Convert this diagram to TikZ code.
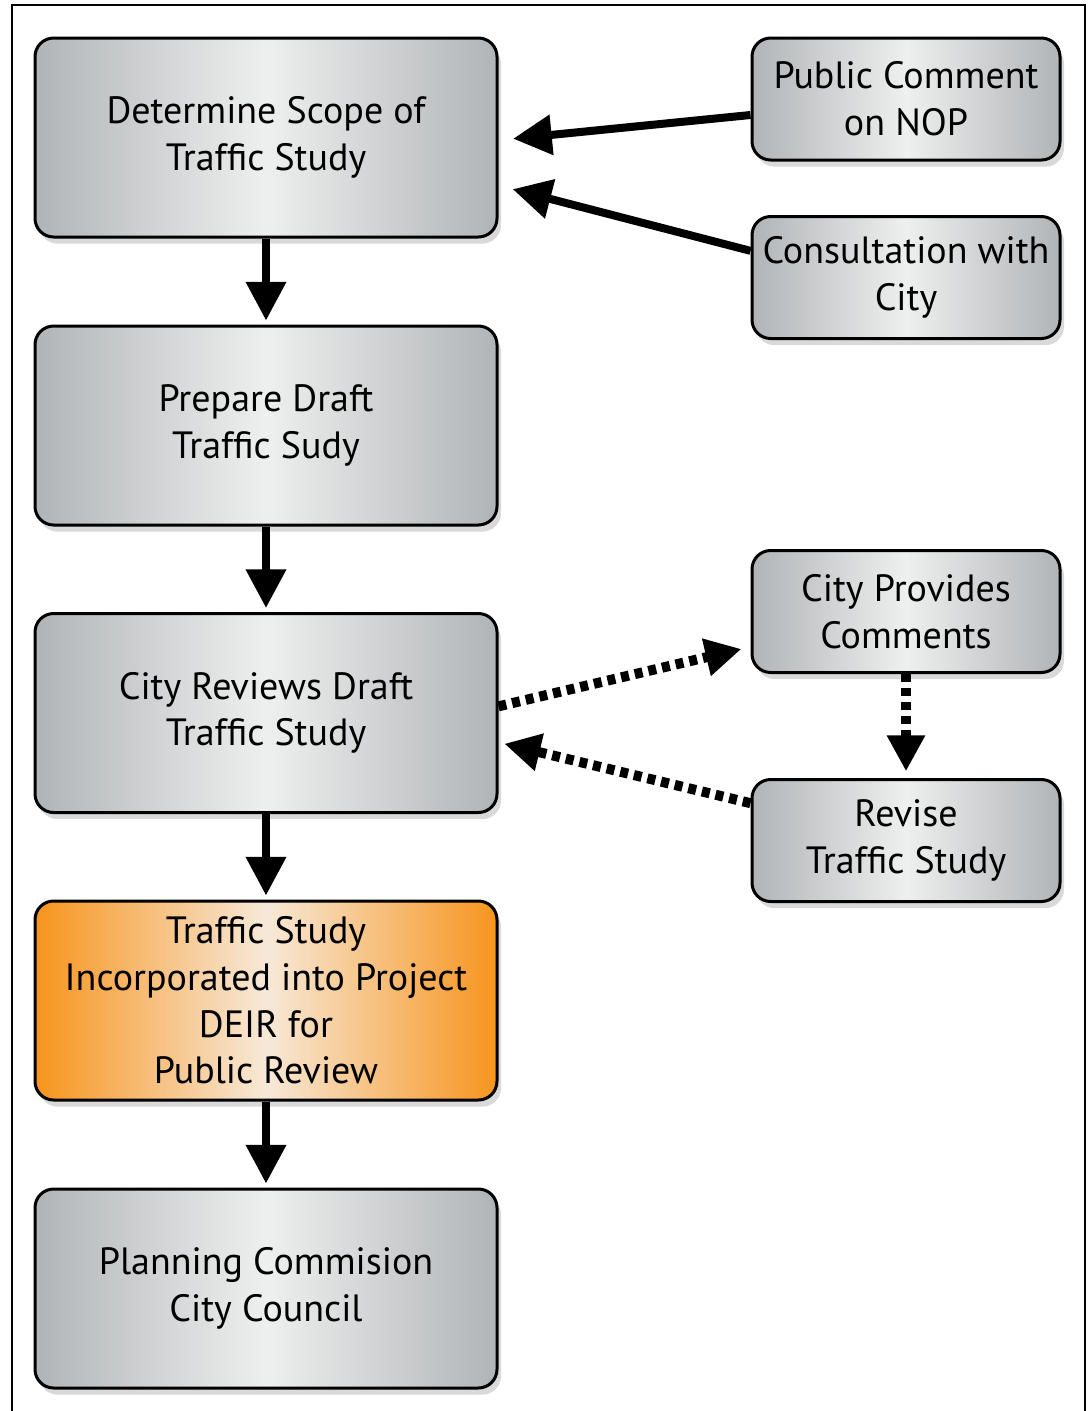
\documentclass[tikz,border=0pt]{standalone}
\usepackage{fontspec}
\setmainfont{PT Sans}
\usepackage{tikz}
\usetikzlibrary{arrows.meta,shadows}

\definecolor{boxgray}{HTML}{B1B4B7}
\definecolor{boxlight}{HTML}{EEF0EF}
\definecolor{boxorange}{HTML}{F7941D}
\definecolor{orangelight}{HTML}{F7E9D8}

\tikzset{
  stepbox/.style={draw=black, line width=2.25pt, rounded corners=14pt,
    left color=boxgray, right color=boxgray, middle color=boxlight,
    align=center, inner sep=0pt,
    drop shadow={shadow xshift=3pt, shadow yshift=-5pt, opacity=0.3},
    font=\fontsize{28.5}{35}\selectfont},
  bigbox/.style={stepbox, minimum width=346.5pt, minimum height=149.25pt},
  sidebox/.style={stepbox, minimum width=231pt, minimum height=91.5pt},
  mainarrow/.style={line width=6pt, -{Triangle[length=29pt,width=29pt]}},
  dotarrow/.style={line width=7.5pt, dash pattern=on 6pt off 4.5pt,
    -{Triangle[length=27pt,width=27pt]}}
}

\begin{document}
\begin{tikzpicture}[x=0.75pt,y=0.75pt,yscale=-1,xscale=1]
    \useasboundingbox (0,0) rectangle (1089,1411);

    %Shape: Frame
    \draw[line width=1.5pt] (12,1430) -- (12,5) -- (1085,5) -- (1085,1430) ;

    %Shape: Rounded Rectangle [left column]
    \node[bigbox] (scope) at (266,137.5) {Determine Scope of\\Traffic Study};
    \node[bigbox] (draft) at (266,425.5) {Prepare Draft\\Traffic Sudy};
    \node[bigbox] (review) at (266,713) {City Reviews Draft\\Traffic Study};
    \node[bigbox, left color=boxorange, right color=boxorange, middle color=orangelight]
      (deir) at (266,1000.5) {Traffic Study\\Incorporated into Project\\DEIR for\\Public Review};
    \node[bigbox] (council) at (266,1288.5) {Planning Commision\\City Council};

    %Shape: Rounded Rectangle [right column]
    \node[sidebox] (nop) at (906,99) {Public Comment\\on NOP};
    \node[sidebox] (consult) at (906,277.5) {Consultation with\\City};
    \node[sidebox] (comments) at (906,611.5) {City Provides\\Comments};
    \node[sidebox] (revise) at (906,840.5) {Revise\\Traffic Study};

    %Straight Lines [main flow]
    \draw[mainarrow, shorten >=3pt] (scope) -- (draft) ;
    \draw[mainarrow, shorten >=3pt] (draft) -- (review) ;
    \draw[mainarrow, shorten >=3pt] (review) -- (deir) ;
    \draw[mainarrow, shorten >=3pt] (deir) -- (council) ;

    %Straight Lines [inputs] (yshift is flipped by yscale=-1)
    \draw[mainarrow, shorten >=11pt] ([yshift=12pt]nop.west) -- ([yshift=2pt]scope.east) ;
    \draw[mainarrow, shorten >=11pt] ([yshift=-20pt]consult.west) -- ([yshift=36pt]scope.east) ;

    %Straight Lines [review loop]
    \draw[dotarrow, shorten >=7pt] ([yshift=-5pt]review.east) -- ([yshift=26.5pt]comments.west) ;
    \draw[dotarrow, shorten >=5pt] (comments) -- (revise) ;
    \draw[dotarrow, shorten >=4.5pt] ([yshift=-28pt]revise.west) -- ([yshift=22pt]review.east) ;

\end{tikzpicture}
\end{document}
